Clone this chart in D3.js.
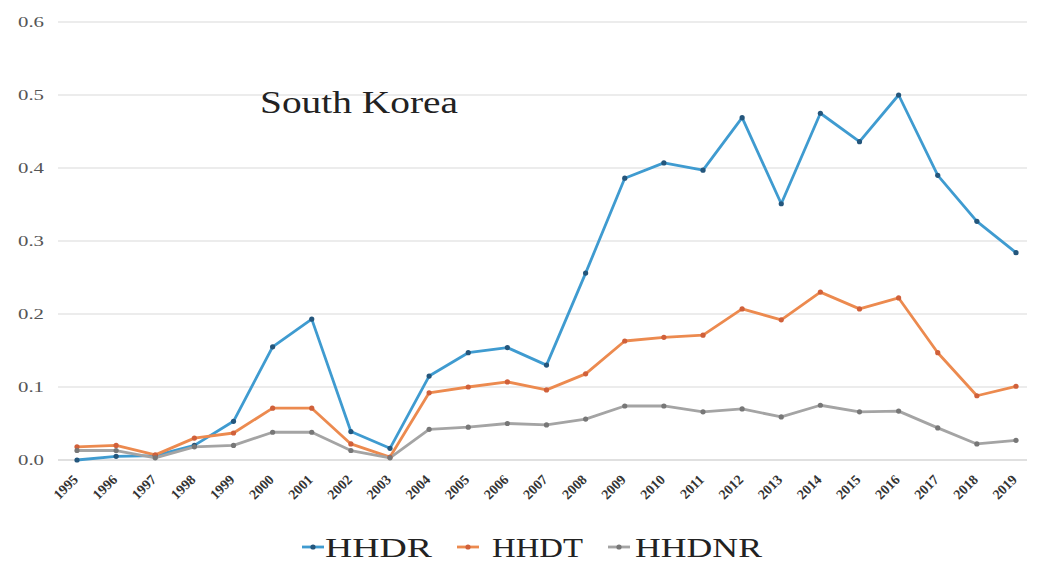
<!DOCTYPE html>
<html><head><meta charset="utf-8">
<script src="https://cdn.jsdelivr.net/npm/d3@7"></script>
<style>body{margin:0;background:#fff}svg{display:block}</style>
</head><body>
<svg id="c" width="1049" height="570"></svg>
<script>
const years = ["1995","1996","1997","1998","1999","2000","2001","2002","2003","2004","2005","2006","2007","2008","2009","2010","2011","2012","2013","2014","2015","2016","2017","2018","2019"];
const hhdr  = [0.000,0.005,0.006,0.020,0.053,0.155,0.193,0.039,0.016,0.115,0.147,0.154,0.130,0.256,0.386,0.407,0.397,0.469,0.351,0.475,0.436,0.500,0.390,0.327,0.284];
const hhdt  = [0.018,0.020,0.007,0.030,0.037,0.071,0.071,0.022,0.004,0.092,0.100,0.107,0.096,0.118,0.163,0.168,0.171,0.207,0.192,0.230,0.207,0.222,0.147,0.088,0.101];
const hhdnr = [0.013,0.013,0.003,0.018,0.020,0.038,0.038,0.013,0.003,0.042,0.045,0.050,0.048,0.056,0.074,0.074,0.066,0.070,0.059,0.075,0.066,0.067,0.044,0.022,0.027];
const yTicks = [0,0.1,0.2,0.3,0.4,0.5,0.6];
const seriesNames = ["HHDR","HHDT","HHDNR"];
const title = "South Korea";

const series = [
  {name:seriesNames[0], values:hhdr,  line:"#3f9bd0", dot:"#24567c"},
  {name:seriesNames[1], values:hhdt,  line:"#ec8a4f", dot:"#d0603a"},
  {name:seriesNames[2], values:hhdnr, line:"#a4a4a4", dot:"#777777"}
];

const svg = d3.select("#c");
const x = d3.scalePoint().domain(years).range([77,1016]);
const y = d3.scaleLinear().domain([0,0.6]).range([460,22]);

// gridlines
svg.append("g").selectAll("line").data(yTicks).join("line")
  .attr("x1",58).attr("x2",1027)
  .attr("y1",d=>y(d)).attr("y2",d=>y(d))
  .attr("stroke",d=>d===0?"#d6d6d6":"#e6e6e6").attr("stroke-width",1.5);

// y axis labels
const yAxis = d3.axisLeft(y).tickValues(yTicks).tickFormat(d3.format(".1f")).tickSize(0).tickPadding(0);
const gy = svg.append("g").attr("transform","translate(44,0)").call(yAxis);
gy.select(".domain").remove();
gy.selectAll("text").attr("font-family","Liberation Serif, serif").attr("font-size",15).attr("fill","#555")
  .attr("textLength",26).attr("lengthAdjust","spacingAndGlyphs");

// x axis labels
const xAxis = d3.axisBottom(x).tickSize(0).tickPadding(0);
const gx = svg.append("g").attr("transform","translate(0,470)").call(xAxis);
gx.select(".domain").remove();
gx.selectAll("text")
  .attr("font-family","Liberation Serif, serif").attr("font-size",14).attr("fill","#333")
  .attr("font-weight","bold")
  .attr("text-anchor","end").attr("dy","0.35em")
  .attr("transform","translate(-2,7) rotate(-45)");

// lines
const line = d3.line().x((d,i)=>x(years[i])).y(d=>y(d));
series.forEach(s=>{
  svg.append("path").datum(s.values).attr("d",line)
    .attr("fill","none").attr("stroke",s.line).attr("stroke-width",2.8).attr("stroke-linejoin","round");
});
series.forEach(s=>{
  svg.append("g").selectAll("circle").data(s.values).join("circle")
    .attr("cx",(d,i)=>x(years[i])).attr("cy",d=>y(d)).attr("r",2.6).attr("fill",s.dot);
});

// title
svg.append("text").attr("x",260).attr("y",113).text(title)
  .attr("font-family","Liberation Serif, serif").attr("font-size",31).attr("fill","#222")
  .attr("textLength",198).attr("lengthAdjust","spacingAndGlyphs");

// legend
const leg = [
  {lx:302, tx:325, tw:107},
  {lx:457, tx:492, tw:91},
  {lx:608, tx:635, tw:127}
];
series.forEach((s,i)=>{
  const L = leg[i];
  svg.append("line").attr("x1",L.lx).attr("x2",L.lx+22).attr("y1",547).attr("y2",547)
    .attr("stroke",s.line).attr("stroke-width",2.8);
  svg.append("circle").attr("cx",L.lx+11).attr("cy",547).attr("r",2.6).attr("fill",s.dot);
  svg.append("text").attr("x",L.tx).attr("y",557).text(s.name)
    .attr("font-family","Liberation Serif, serif").attr("font-size",27).attr("fill","#222")
    .attr("textLength",L.tw).attr("lengthAdjust","spacingAndGlyphs");
});
</script>
</body></html>
